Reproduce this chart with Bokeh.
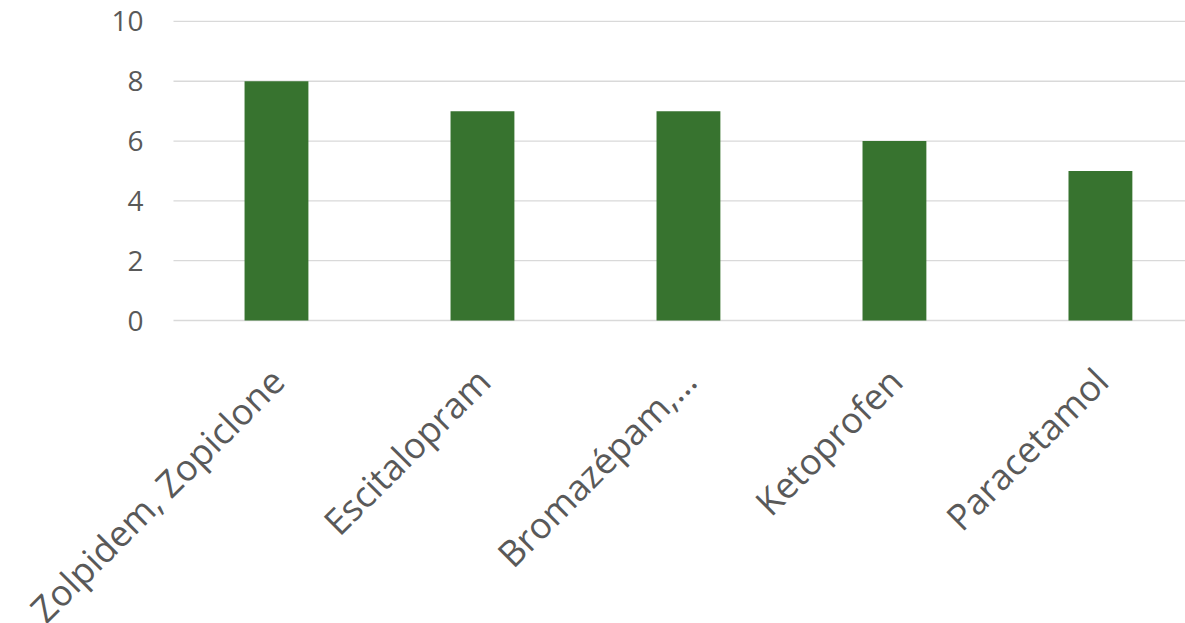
import math
from bokeh.plotting import figure
from bokeh.models import Range1d, ColumnDataSource
from bokeh.core.properties import value
from bokeh.embed import file_html
from bokeh.resources import INLINE

categories = ["Zolpidem, Zopiclone", "Escitalopram", "Bromazépam,…", "Ketoprofen", "Paracetamol"]
values = [8, 7, 7, 6, 5]
y_ticks = [0, 2, 4, 6, 8, 10]

x_start, x_end = -0.5, 4.413

xs = list(range(len(categories)))
src = ColumnDataSource(dict(x=xs, top=values, cat=categories, base=[0] * len(xs)))
tick_src = ColumnDataSource(dict(y=y_ticks, label=[str(t) for t in y_ticks],
                                 x0=[x_start] * len(y_ticks), x1=[x_end] * len(y_ticks)))

p = figure(width=1185, height=623, output_backend="svg", toolbar_location=None,
           x_range=Range1d(x_start - 173 / 206, x_end), y_range=Range1d(-10.13, 10.70),
           min_border_left=0, min_border_right=0, min_border_top=0, min_border_bottom=0)
p.outline_line_color = None
p.background_fill_color = "white"
p.border_fill_color = "white"
p.xaxis.visible = False
p.yaxis.visible = False
p.xgrid.visible = False
p.ygrid.visible = False

# horizontal gridlines
p.segment(x0="x0", x1="x1", y0="y", y1="y", source=tick_src, line_color="#d9d9d9", line_width=1.3)

# bars
p.vbar(x="x", top="top", width=0.31, bottom=0, source=src, fill_color="#37732F", line_color=None)

# y tick labels
p.text(x="x0", y="y", text="label", source=tick_src, text_align="right", text_baseline="middle",
       x_offset=-30, text_font=value("Open Sans"), text_font_size="28px", text_color="#595959")

# category labels
p.text(x="x", y="base", text="cat", source=src, angle=math.pi / 4,
       text_align="right", text_baseline="alphabetic", x_offset=1, y_offset=54,
       text_font=value("Open Sans"), text_font_size="36px", text_color="#595959")

open("out.html", "w").write(file_html(p, INLINE))
